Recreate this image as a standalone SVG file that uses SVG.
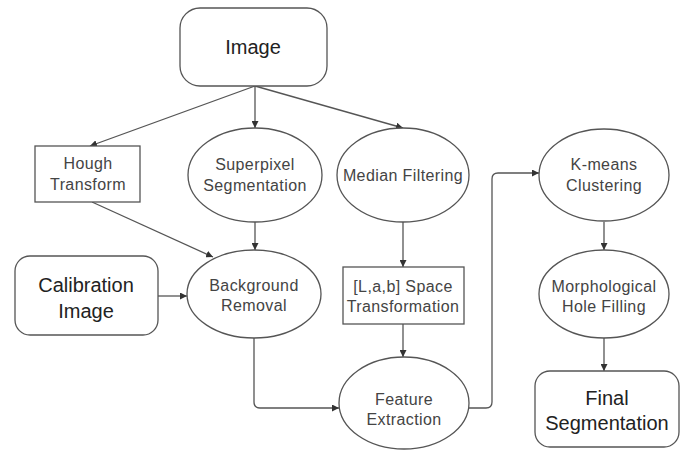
<svg xmlns="http://www.w3.org/2000/svg" width="683" height="450" viewBox="0 0 683 450">
<style>
.shape{fill:#fff;stroke:#555;stroke-width:1.3}
.t{font-family:"Liberation Sans",Arial,sans-serif;font-size:16px;fill:#444;text-anchor:middle;letter-spacing:0.4px}
.big{font-family:"Liberation Sans",Arial,sans-serif;font-size:20px;fill:#222;text-anchor:middle}
.c{fill:none;stroke:#555;stroke-width:1.3;marker-end:url(#ah)}
</style>
<defs>
<marker id="ah" viewBox="0 0 10 10" refX="10" refY="5" markerWidth="7" markerHeight="7" markerUnits="userSpaceOnUse" orient="auto">
<path d="M0,0 L10,5 L0,10 z" fill="#333"/>
</marker>
</defs>
<rect width="683" height="450" fill="#fff"/>
<g id="connectors">
<line class="c" x1="255" y1="86" x2="90" y2="146"/>
<line class="c" x1="255" y1="86" x2="255" y2="128"/>
<line class="c" x1="255" y1="86" x2="403" y2="128"/>
<line class="c" x1="92" y1="202" x2="213" y2="257"/>
<line class="c" x1="255" y1="222" x2="255" y2="250"/>
<line class="c" x1="158" y1="296" x2="187" y2="296"/>
<line class="c" x1="403" y1="222" x2="403" y2="267"/>
<line class="c" x1="403" y1="324" x2="403" y2="357"/>
<path class="c" d="M254,338 V402 Q254,408 260,408 H339"/>
<path class="c" d="M469,408 H486 Q492,408 492,402 V179 Q492,173 498,173 H539"/>
<line class="c" x1="604" y1="222" x2="604" y2="250"/>
<line class="c" x1="604" y1="338" x2="604" y2="371"/>
</g>
<g id="image"><rect class="shape" x="180" y="8" width="147" height="78" rx="20"/><text class="big" x="253" y="54">Image</text></g>
<g id="hough"><rect class="shape" x="35" y="146" width="105" height="56"/><text class="t" x="88" y="169">Hough</text><text class="t" x="88" y="190">Transform</text></g>
<g id="superpixel"><ellipse class="shape" cx="255" cy="175" rx="67" ry="47"/><text class="t" x="255" y="170">Superpixel</text><text class="t" x="255" y="191">Segmentation</text></g>
<g id="median"><ellipse class="shape" cx="403" cy="175" rx="66" ry="47"/><text class="t" x="403" y="181">Median Filtering</text></g>
<g id="kmeans"><ellipse class="shape" cx="604" cy="175" rx="65" ry="46"/><text class="t" x="604" y="170">K-means</text><text class="t" x="604" y="191">Clustering</text></g>
<g id="calibration"><rect class="shape" x="15" y="256" width="143" height="79" rx="15"/><text class="big" x="86" y="292">Calibration</text><text class="big" x="86" y="318">Image</text></g>
<g id="background"><ellipse class="shape" cx="254" cy="294" rx="67" ry="44"/><text class="t" x="254" y="291">Background</text><text class="t" x="254" y="311">Removal</text></g>
<g id="lab"><rect class="shape" x="343" y="267" width="121" height="57"/><text class="t" x="403" y="292">[L,a,b] Space</text><text class="t" x="403" y="312">Transformation</text></g>
<g id="morph"><ellipse class="shape" cx="604" cy="294" rx="65" ry="44"/><text class="t" x="604" y="292">Morphological</text><text class="t" x="604" y="312">Hole Filling</text></g>
<g id="feature"><ellipse class="shape" cx="404" cy="403" rx="65" ry="46"/><text class="t" x="404" y="405">Feature</text><text class="t" x="404" y="425">Extraction</text></g>
<g id="final"><rect class="shape" x="535" y="371" width="144" height="76" rx="15"/><text class="big" x="607" y="405">Final</text><text class="big" x="607" y="430">Segmentation</text></g>
</svg>
